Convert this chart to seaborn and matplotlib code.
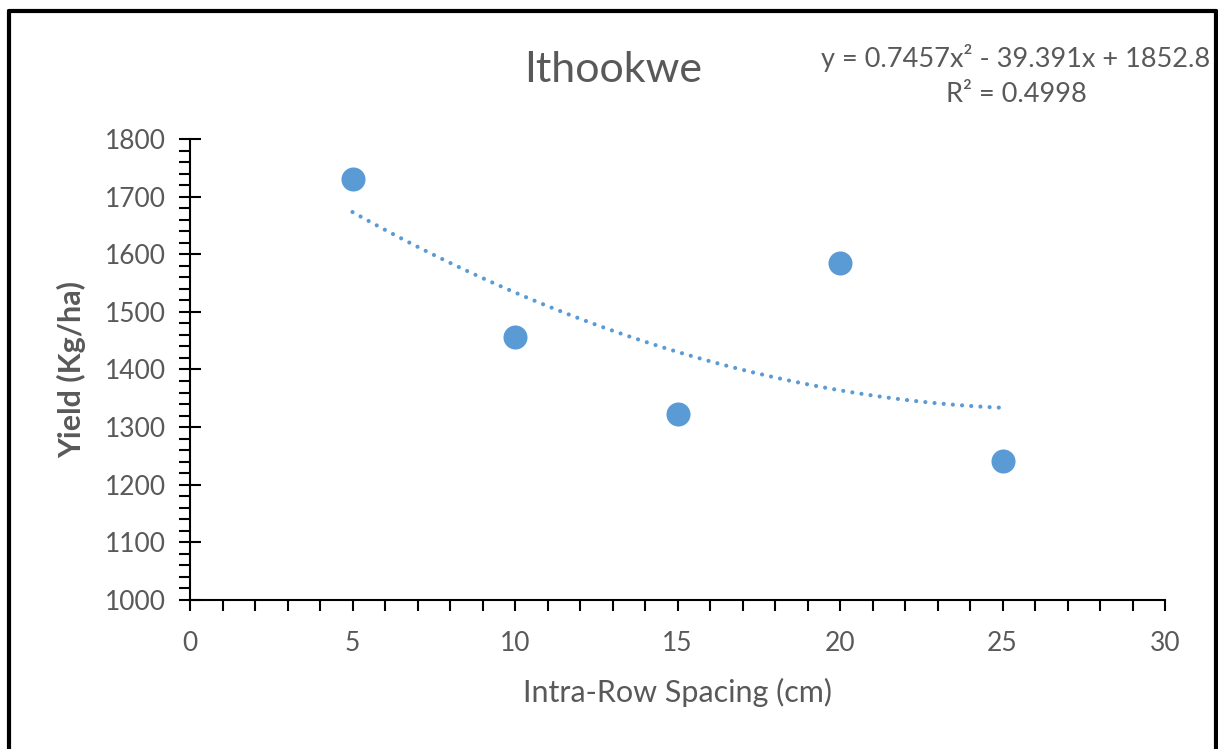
import matplotlib
matplotlib.use("Agg")
import matplotlib.pyplot as plt
import seaborn as sns
import numpy as np
import pandas as pd
from matplotlib.lines import Line2D
from matplotlib.ticker import MultipleLocator

spacing = [5, 10, 15, 20, 25]
yield_kg = [1730, 1456, 1323, 1585, 1241]
title = "Ithookwe"
equation = "y = 0.7457x² - 39.391x + 1852.8\nR² = 0.4998"
x_ticks = [0, 5, 10, 15, 20, 25, 30]
y_ticks = [1000, 1100, 1200, 1300, 1400, 1500, 1600, 1700, 1800]

df = pd.DataFrame({"x": spacing, "y": yield_kg})

sns.set_theme(style="white")
plt.rcParams['font.family'] = ['Lato', 'DejaVu Sans']

blue = "#5B9BD5"
grey = "#595959"

fig = plt.figure(figsize=(12.18, 7.49), dpi=100)
ax = fig.add_axes([190/1218, 1-600/749, (1165-190)/1218, (600-139)/749])

sns.regplot(data=df, x="x", y="y", order=2, ci=None, scatter=False, ax=ax,
            line_kws=dict(color=blue, lw=3, linestyle=(0, (0.01, 2.2)),
                          dash_capstyle='round', solid_capstyle='round'))
sns.scatterplot(data=df, x="x", y="y", ax=ax, s=300, color=blue,
                edgecolor=blue, linewidth=0, zorder=3)

ax.set_xlim(0, 30)
ax.set_ylim(1000, 1800)
ax.set_xticks(x_ticks)
ax.set_yticks(y_ticks)
ax.xaxis.set_minor_locator(MultipleLocator(1))
ax.yaxis.set_minor_locator(MultipleLocator(20))
ax.tick_params(axis='x', which='both', direction='out', length=8, width=1.5,
               color='black', labelsize=19, labelcolor=grey, pad=14, bottom=True)
ax.tick_params(axis='y', which='major', direction='inout', length=16, width=1.5,
               color='black', labelsize=19, labelcolor=grey, pad=9, left=True)
ax.tick_params(axis='y', which='minor', direction='out', length=8, width=1.5,
               color='black', left=True)
for s in ['top', 'right']:
    ax.spines[s].set_visible(False)
for s in ['left', 'bottom']:
    ax.spines[s].set_color('black')
    ax.spines[s].set_linewidth(1.5)

ax.set_xlabel("Intra-Row Spacing (cm)", fontsize=22, color=grey, labelpad=16)
ax.set_ylabel("Yield (Kg/ha)", fontsize=22, color=grey, fontweight='bold', labelpad=14)

fig.text(613/1218, 1-70/749, title, fontsize=31, color=grey, ha='center', va='center')
fig.text(1016/1218, 1-76/749, equation, fontsize=19.5, color=grey, ha='center',
         va='center', linespacing=1.5, multialignment='center')

# outer frame
lw = 3
fig.add_artist(Line2D([9/1218, 9/1218], [0, 1-11/749], color='black', lw=lw, transform=fig.transFigure))
fig.add_artist(Line2D([9/1218, 1216/1218], [1-11/749, 1-11/749], color='black', lw=lw, transform=fig.transFigure))
fig.add_artist(Line2D([1216/1218, 1216/1218], [0, 1-11/749], color='black', lw=lw, transform=fig.transFigure))

fig.savefig("out.png", dpi=100, facecolor='white')
